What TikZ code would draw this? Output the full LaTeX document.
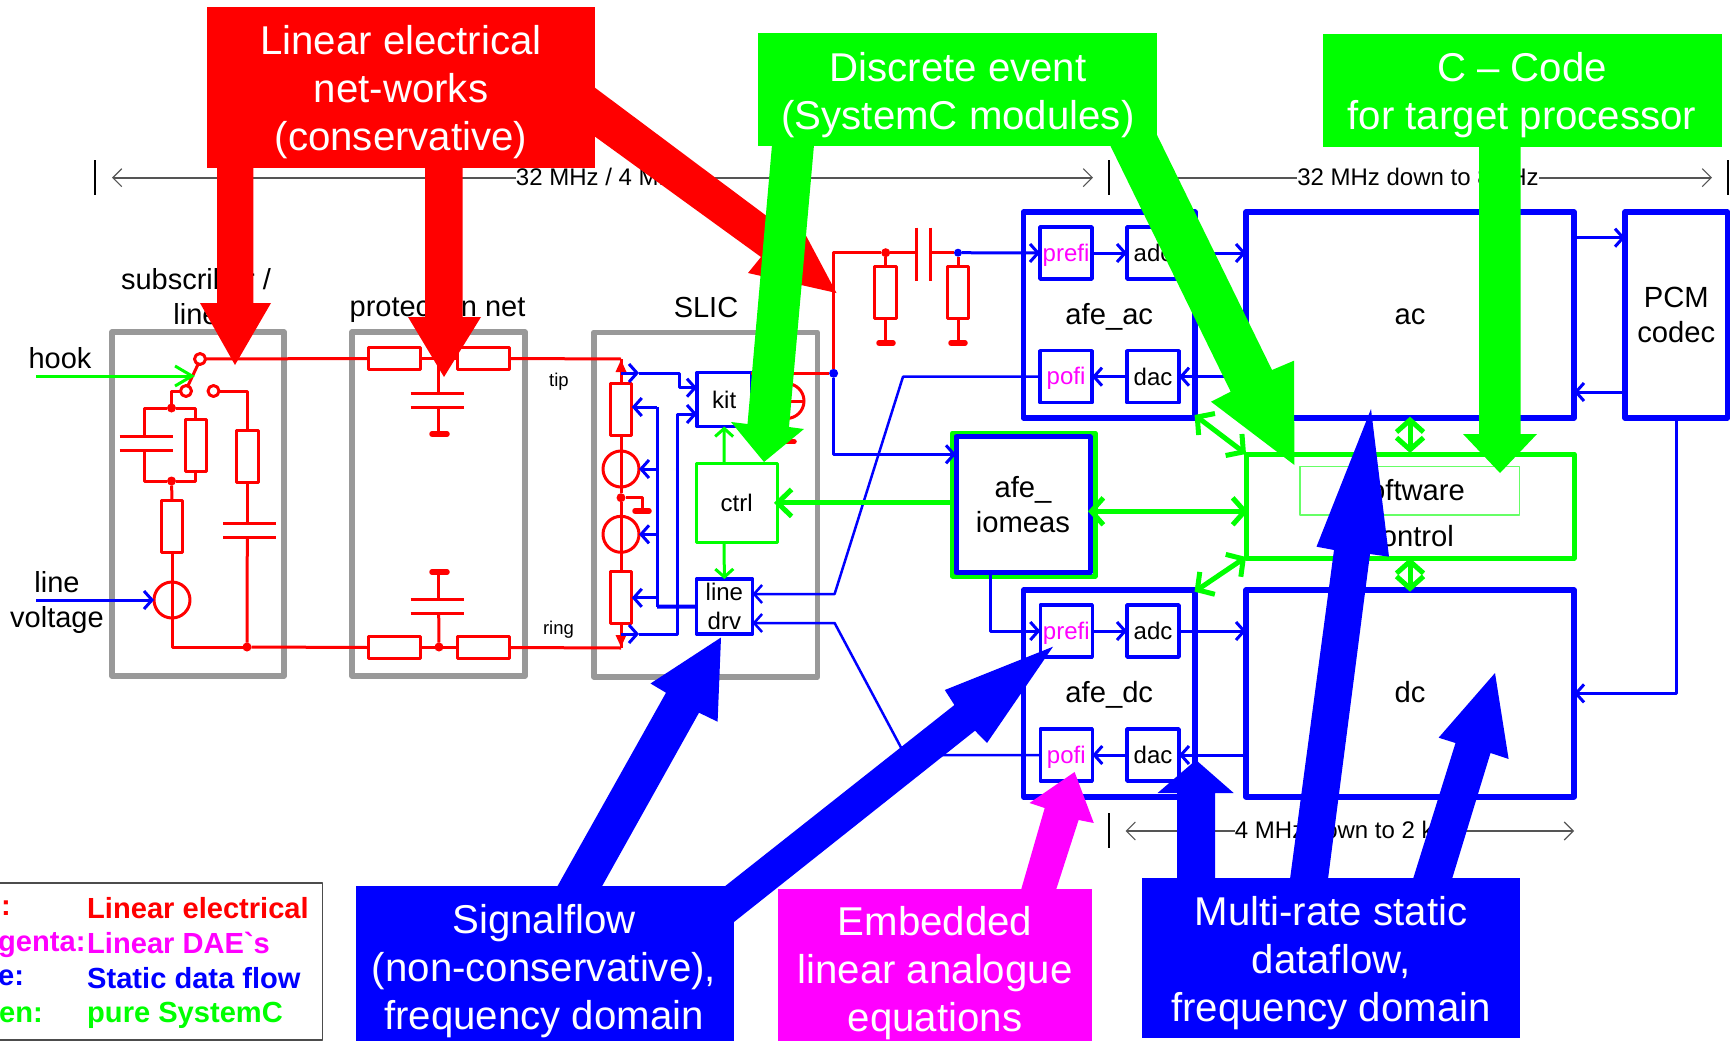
\documentclass[tikz,border=0pt]{standalone}
\usepackage{fontspec}
\setmainfont{Liberation Sans}
\newfontfamily\plainf{Liberation Sans}
\usetikzlibrary{arrows.meta}
\definecolor{fr}{HTML}{FF0000}
\definecolor{fg}{HTML}{00FF00}
\definecolor{fb}{HTML}{0000FF}
\definecolor{fm}{HTML}{FF00FF}
\definecolor{gbox}{HTML}{999999}
\definecolor{dimc}{HTML}{555555}
\tikzset{
  big/.style={font=\fontsize{40.2}{48}\selectfont,text=white,align=center,inner sep=0pt},
  cal/.style={rectangle,inner sep=0pt,outer sep=0pt,draw=none},
  grayb/.style={rectangle,draw=gbox,line width=5.5pt,inner sep=0pt,outer sep=0pt},
  blkb/.style={rectangle,draw=fb,line width=5.5pt,fill=white,inner sep=0pt,outer sep=0pt,font=\fontsize{29.2}{35}\selectfont,align=center},
  blkt/.style={blkb,text height=23pt,text depth=5pt},
  blks/.style={rectangle,draw=fb,line width=3.5pt,fill=white,inner sep=0pt,outer sep=0pt,font=\fontsize{24}{30}\selectfont,align=center,minimum width=52pt,minimum height=52pt},
  grn/.style={rectangle,draw=fg,line width=5pt,inner sep=0pt,outer sep=0pt},
  lab/.style={inner sep=0pt,font=\fontsize{29}{35}\selectfont,align=center},
  sml/.style={inner sep=0pt,font=\fontsize{24}{30}\selectfont,align=center},
  tiny/.style={inner sep=0pt,font=\fontsize{18.5}{22}\selectfont},
  leg/.style={inner sep=0pt,anchor=west,font=\bfseries\fontsize{29.1}{35}\selectfont},
  mag/.style={text=fm,font=\fontsize{24}{30}\selectfont,text height=20pt,text depth=4pt},
  res/.style={rectangle,draw=fr,line width=3pt,fill=white,inner sep=0pt,outer sep=0pt},
  rh/.style={res,minimum width=52pt,minimum height=21.5pt},
  rv/.style={res,minimum width=21.5pt,minimum height=52pt},
  ring/.style={circle,draw=fr,line width=3pt,inner sep=0pt,outer sep=0pt,minimum size=36pt},
  swc/.style={circle,draw=fr,line width=3pt,fill=white,inner sep=0pt,outer sep=0pt,minimum size=11pt},
  jr/.style={circle,fill=fr,inner sep=0pt,outer sep=0pt,minimum size=9pt},
  jb/.style={circle,fill=fb,inner sep=0pt,outer sep=0pt,minimum size=9pt},
  rw/.style={draw=fr,line width=3pt},
  bar/.style={draw=fr,line width=5.5pt,line cap=round},
  bw/.style={draw=fb,line width=3pt},
  bn/.style={draw=fb,line width=2.5pt},
  gw/.style={draw=fg,line width=3pt},
  gt/.style={draw=fg,line width=5pt},
  oa/.style={-{Straight Barb[length=8pt,width=18pt]}},
  oh/.style={-{Straight Barb[length=17pt,width=20pt]}},
  gsa/.style={-{Straight Barb[length=14pt,width=27pt]},shorten >=-3pt},
  gda/.style={{Straight Barb[length=12pt,width=27pt]}-{Straight Barb[length=12pt,width=27pt]}},
  dima/.style={draw=dimc,line width=1.6pt},
  dimt/.style={draw=black,line width=1.6pt},
  dimh/.style={{Straight Barb[length=9pt,width=18pt,line width=1.1pt]}-{Straight Barb[length=9pt,width=18pt,line width=1.1pt]}},
}
\begin{document}
\begin{tikzpicture}[x=1pt,y=-1pt,line join=round]
\useasboundingbox (0,0) rectangle (1735,1041);
\fill[white] (0,0) rectangle (1735,1041);

% frequency ranges
\coordinate (t1a) at (94.7,160); \coordinate (t1b) at (94.7,195);
\coordinate (t2a) at (1109,160); \coordinate (t2b) at (1109,195);
\coordinate (t3a) at (1728,160); \coordinate (t3b) at (1728,195);
\coordinate (t4a) at (1109,813); \coordinate (t4b) at (1109,848);
\draw[dimt] (t1a)--(t1b); \draw[dimt] (t2a)--(t2b); \draw[dimt] (t3a)--(t3b); \draw[dimt] (t4a)--(t4b);
\coordinate (r1a) at (112,177.7); \coordinate (r1b) at (1093,177.7);
\coordinate (r2a) at (1132,177.7); \coordinate (r2b) at (1712,177.7);
\coordinate (r3a) at (1125.5,831); \coordinate (r3b) at (1574,831);
\draw[dima,dimh] (r1a)--(r1b);
\draw[dima,dimh] (r2a)--(r2b);
\draw[dima,dimh] (r3a)--(r3b);
\node[sml,fill=white] (f1) at (602,176.7) {32 MHz / 4 MHz};
\node[sml,fill=white] (f2) at (1418,176.7) {32 MHz down to 8 kHz};
\node[sml,fill=white] (f3) at (1349,830) {4 MHz down to 2 kHz};

% labels
\node[lab] (lsub) at (196,297) {subscriber /\\line};
\node[lab] (lpro) at (437.5,309) {protection net};
\node[lab] (lsl) at (706,307.5) {SLIC};
\node[lab] (lhook) at (60,358) {hook};
\node[lab] (llv) at (57,602) {line\\voltage};
\node[tiny] (ltip) at (559,382) {tip};
\node[tiny] (lring) at (558.5,630) {ring};

% grey boxes
\node[grayb,minimum width=172pt,minimum height=344pt] (bsub) at (198,504) {};
\node[grayb,minimum width=173pt,minimum height=344pt] (bpro) at (438.5,504) {};
\node[grayb,minimum width=223.5pt,minimum height=344.5pt] (bsl) at (705.5,504.5) {};

% subscriber circuit
\node[swc] (swa) at (200,359) {};
\node[swc] (swb) at (186,391) {};
\node[swc] (swd) at (213.5,391) {};
\node[jr] (j1) at (171.5,408) {};
\node[jr] (j2) at (171.5,481) {};
\node[jr] (j3) at (247,647) {};
\node[rv] (rs1) at (195.8,445) {};
\node[rv] (rs2) at (172,526) {};
\node[rv] (rs3) at (247.3,456.5) {};
\node[ring] (src) at (172,600) {};
\draw[rw] (swb.70)--(swa.250);
\draw[rw] (swb.west)-|(j1);
\coordinate (c1t) at (144.6,436); \coordinate (c1b) at (144.6,450);
\draw[rw] (j1)-|(c1t); \draw[rw] (c1b)|-(j2);
\draw[rw] (j1)-|(rs1.north); \draw[rw] (j2)-|(rs1.south);
\draw[rw] (119.5,436)--(173,436); \draw[rw] (119.5,450)--(173,450);
\draw[rw] (j2)--(rs2.north); \draw[rw] (rs2.south)--(src.north)--(src.south)|-(j3);
\draw[rw] (swd.east)-|(rs3.north);
\coordinate (c2t) at (247.3,523.7); \coordinate (c2b) at (247.3,537);
\draw[rw] (rs3.south)--(c2t); \draw[rw] (c2b)--(j3);
\draw[rw] (223,523.7)--(275.5,523.7); \draw[rw] (223,537)--(275.5,537);
\coordinate (hk0) at (36,376); \coordinate (hk1) at (195,376);
\draw[gw,oh] (hk0)--(hk1);
\coordinate (lv0) at (36,600);
\draw[bw,oa] (lv0)--(src.west);

% protection net
\node[rh] (pa1) at (394,358.5) {};
\node[rh] (pa2) at (483.5,358.5) {};
\node[rh] (pb1) at (394,647.5) {};
\node[rh] (pb2) at (483.5,647.5) {};
\node[jr] (j4) at (439,647) {};
\coordinate (jt) at (438.7,359);
\coordinate (tipc) at (621,359); \coordinate (ringc) at (621,648);
\draw[rw] (swa.east)--(pa1.west); \draw[rw] (pa1.east)--(pa2.west); \draw[rw] (pa2.east)--(tipc);
\draw[rw] (j3)--(pb1.west); \draw[rw] (pb1.east)--(pb2.west); \draw[rw] (pb2.east)--(ringc);
\coordinate (c3t) at (438.7,393); \coordinate (c3b) at (438.7,407); \coordinate (g3) at (438.7,434);
\draw[rw] (jt)--(c3t); \draw[rw] (c3b)--(g3);
\draw[rw] (410.5,393)--(464,393); \draw[rw] (410.5,407)--(464,407);
\draw[bar] (432,434)--(447,434);
\coordinate (c4t) at (438.7,599); \coordinate (c4b) at (438.7,613); \coordinate (g4) at (438.7,572);
\draw[rw] (j4)--(c4b); \draw[rw] (c4t)--(g4);
\draw[rw] (410.5,599)--(464,599); \draw[rw] (410.5,613)--(464,613);
\draw[bar] (432,572)--(447,572);

% SLIC
\node[rv] (rt) at (621,409) {};
\node[ring] (sc1) at (621,469) {};
\node[jr] (jg) at (621,497.7) {};
\node[ring] (sc2) at (621,534.3) {};
\node[rv] (rbt) at (621,597.8) {};
\coordinate (ggd) at (642,511);
\draw[rw] (tipc)--(rt.north); \draw[rw] (rt.south)--(sc1.north)--(sc1.south)--(jg)--(sc2.north)--(sc2.south)--(rbt.north); \draw[rw] (rbt.south)--(ringc);
\draw[rw] (jg)-|(ggd);
\draw[bar] (635,511)--(649,511);
\fill[fr] (621,360)--(615.5,372)--(626.5,372)--cycle;
\fill[fr] (621,647)--(615.5,635)--(626.5,635)--cycle;

% sense source behind kit
\node[ring,minimum size=35pt] (sens) at (786.5,401) {};
\coordinate (sg) at (786.5,441.7);
\draw[rw] (sens.south)--(sg);
\draw[bar] (778,441.7)--(794,441.7);

\node[blks,minimum width=54.4pt,minimum height=54pt] (kit) at (724.2,399.5) {kit};
\node[rectangle,draw=fg,line width=3pt,fill=white,inner sep=0pt,outer sep=0pt,minimum width=80.6pt,minimum height=79.7pt,font=\fontsize{24}{30}\selectfont] (ctrl) at (736.7,502.9) {ctrl};
\node[blks,minimum width=56pt,minimum height=55pt,align=center] (drv) at (724.4,606.5) {\raisebox{1pt}{line}\\[-1pt]\raisebox{1pt}{drv}};
\draw[rw] (sens.west)--(sens.east);

\coordinate (st1) at (621,373); \coordinate (ar1) at (639,373); \coordinate (k2) at (679,387.7);
\coordinate (st2) at (621,634); \coordinate (ar2) at (639,634); \coordinate (k3) at (677,414);
\draw[bw,oa] (st1)--(ar1);
\draw[bw,oa] (ar1)-|(k2)--(kit.west|-k2);
\draw[bw,oa] (st2)--(ar2);
\draw[bw,oa] (ar2)-|(k3)--(kit.west|-k3);
\coordinate (bt) at (657,407); \coordinate (bb) at (657,606.7);
\draw[bw,line width=4pt] (drv.west)--(bb);
\draw[bw] (bb)--(bt);
\draw[bw,oa] (bt)--(rt.east|-bt);
\draw[bw,oa] (bt|-sc1)--(sc1.east);
\draw[bw,oa] (bt|-sc2)--(sc2.east);
\draw[bw,oa] (bt|-rbt)--(rbt.east);
\coordinate (ka) at (724,463); \coordinate (kb) at (724,542.7);
\draw[gw,oa] (ka)--(kit.south);
\draw[gw,oa] (kb)--(drv.north);

% blocks
\node[blkt,minimum width=171.5pt,minimum height=206pt] (afeac) at (1109.25,315) {afe\_ac};
\node[blkt,minimum width=171.5pt,minimum height=206.7pt] (afedc) at (1109.25,693.4) {afe\_dc};
\node[blkt,minimum width=328pt,minimum height=206pt] (ac) at (1410,315) {ac};
\node[blkt,minimum width=328pt,minimum height=206.7pt] (dc) at (1410,693.4) {dc};
\node[blkb,minimum width=102.6pt,minimum height=206pt] (pcm) at (1676.3,315) {PCM\\codec};
\node[rectangle,draw=fg,line width=5pt,line join=round,fill=white,inner sep=0pt,outer sep=0pt,minimum width=142.5pt,minimum height=143pt] (iomg) at (1023.75,504.5) {};
\node[blkb,line width=5pt,minimum width=134pt,minimum height=136pt] (iom) at (1023,504.7) {\raisebox{1pt}{afe\_}\\\raisebox{1pt}{iomeas}};
\node[grn,minimum width=328pt,minimum height=104pt,fill=white] (sw) at (1410,506) {};
\node[rectangle,draw=fg!60!white,line width=1.3pt,inner sep=0pt,minimum width=219.5pt,minimum height=48.3pt,font=\fontsize{29.2}{35}\selectfont] (swt) at (1409.75,490.8) {\raisebox{2pt}{software}};
\node[lab,font=\fontsize{29.2}{35}\selectfont] (ctl) at (1410,536) {control};

\node[blks,mag] (prea) at (1066,253) {prefi};
\node[blks] (adca) at (1153,253) {adc};
\node[blks,mag] (pofa) at (1066,376.7) {pofi};
\node[blks] (daca) at (1153,376.7) {dac};
\node[blks,mag] (pred) at (1066.3,631) {prefi};
\node[blks] (adcd) at (1153,631) {adc};
\node[blks,mag] (pofd) at (1066.3,755) {pofi};
\node[blks] (dacd) at (1153,755) {dac};

% AC coupling
\node[jb] (jb1) at (833.6,373.3) {};
\node[jr] (jrc) at (885.7,252.7) {};
\node[jb,minimum size=8pt] (jb2) at (958,252.7) {};
\node[rv] (rl) at (885.7,292) {};
\node[rv] (rr) at (958,292) {};
\coordinate (ca) at (916.8,252.7); \coordinate (cb) at (930,252.7);
\coordinate (gl) at (885.7,343); \coordinate (gr) at (958,343);
\draw[rw] (kit.east|-jb1)--(jb1)|-(jrc);
\draw[rw] (jrc)--(ca); \draw[rw] (cb)--(jb2);
\draw[rw] (916.8,227.7)--(916.8,281); \draw[rw] (930,227.7)--(930,281);
\draw[rw] (jrc)--(rl.north); \draw[rw] (jb2)--(rr.north);
\draw[rw] (rl.south)--(gl); \draw[rw] (rr.south)--(gr);
\draw[bar] (879,343)--(893,343); \draw[bar] (951,343)--(965,343);

% blue wires
\coordinate (w1) at (833.6,454.3);
\draw[bw,oa] (jb1)--(w1)--(iom.west|-w1);
\draw[bw,oa] (jb2)--(prea.west);
\draw[bw,oa] (prea.east)--(adca.west);
\draw[bw,oa] (adca.east)--(ac.west|-adca);
\draw[bw,oa] (ac.west|-daca)--(daca.east);
\draw[bw,oa] (daca.west)--(pofa.east);
\coordinate (d1) at (834.6,594); \coordinate (d2) at (834.6,623);
\coordinate (e1) at (903,376.7); \coordinate (e2) at (905,755);
\draw[bn,oa] (pofa.west)--(e1)--(d1)--(drv.east|-d1);
\draw[bn,oa] (pofd.west)--(e2)--(d2)--(drv.east|-d2);
\coordinate (i1) at (990,572.7);
\draw[bw,oa] (i1)|-(pred.west);
\draw[bw,oa] (pred.east)--(adcd.west);
\draw[bw,oa] (adcd.east)--(dc.west|-adcd);
\draw[bw,oa] (dc.west|-dacd)--(dacd.east);
\draw[bw,oa] (dacd.west)--(pofd.east);
\coordinate (p1) at (1574,237.7); \coordinate (p2) at (1574,392);
\draw[bw,oa] (p1)--(pcm.west|-p1);
\draw[bw,oa] (pcm.west|-p2)--(p2);
\draw[bw,oa] (pcm.south)|-(dc.east);

% green wires
\draw[gt,gsa] (iomg.west|-ctrl)--(ctrl.east);
\coordinate (g1) at (1088,511.3); \coordinate (g2) at (1248,511.3);
\draw[gt,gda] (g1)--(g2);
\coordinate (g3a) at (1410,416.7); \coordinate (g3b) at (1410,453);
\draw[gt,gda] (g3a)--(g3b);
\coordinate (g4a) at (1410,558); \coordinate (g4b) at (1410,591.7);
\draw[gt,gda] (g4a)--(g4b);
\coordinate (g5a) at (1194.6,415); \coordinate (g5b) at (1246,454);
\draw[gt,gda] (g5a)--(g5b);
\coordinate (g6a) at (1194.6,591.7); \coordinate (g6b) at (1246,557);
\draw[gt,gda] (g6a)--(g6b);

% block arrows
\fill[fr] (217,168)--(217,303)--(200,303)--(235,365)--(271,303)--(253.4,303)--(253.4,168)--cycle;
\fill[fr] (425,168)--(425,317)--(408,317)--(444,377)--(481,317)--(462.5,317)--(462.5,168)--cycle;
\fill[fr] (590,84)--(782.7,228)--(794,213)--(836.5,293)--(748,273)--(761,257)--(590,133)--cycle;
\fill[fg] (772,145)--(747.5,424)--(731,422)--(764,462)--(804,429)--(789,427)--(814,145)--cycle;
\fill[fg] (1110,145)--(1230.7,391.7)--(1211,401.7)--(1294.4,465)--(1294,360.7)--(1272,370)--(1157,135)--cycle;
\fill[fg] (1479,146)--(1479,434)--(1463,434)--(1500,473)--(1537,434)--(1520.5,434)--(1520.5,146)--cycle;
\fill[fb] (557,887)--(666,692.7)--(650.5,683.5)--(721,637.5)--(717.6,721.7)--(699,712.7)--(601.6,887)--cycle;
\fill[fb] (724,887)--(954.4,705)--(944.8,690)--(1053,646.7)--(987,743)--(975,730.7)--(734,922)--cycle;
\fill[fm] (1021,890)--(1044.7,808)--(1029.5,803)--(1074.6,772)--(1093.8,823)--(1078.6,820)--(1056,890)--cycle;
\fill[fb] (1177,879)--(1177,793)--(1157.6,793)--(1196,760)--(1233.7,793)--(1215,793)--(1215,879)--cycle;
\fill[fb] (1290,879)--(1334,550)--(1316.5,546.7)--(1371,409)--(1389,556.7)--(1370,554)--(1328,879)--cycle;
\fill[fb] (1413,879)--(1455.5,743)--(1438.6,737.7)--(1495,673)--(1508.6,759)--(1490.5,753)--(1452,879)--cycle;

% callouts
\node[cal,fill=fr,minimum width=388pt,minimum height=161pt] (cr) at (401,87.5) {};
\node[big] (crt) at (401,92.5) {Linear electrical\\net-works\\(conservative)};
\node[cal,fill=fg,minimum width=399pt,minimum height=113pt] (cg1) at (957.5,89.5) {};
\node[big] (cg1t) at (958,95) {Discrete event\\(SystemC modules)};
\node[cal,fill=fg,minimum width=399pt,minimum height=113pt] (cg2) at (1522.5,90.5) {};
\node[big] (cg2t) at (1522,95.2) {C – Code\\for target processor};
\node[cal,fill=fb,minimum width=378pt,minimum height=155pt] (cb1) at (545,963.5) {};
\node[big] (cb1t) at (544,971.3) {Signalflow\\(non-conservative),\\frequency domain};
\node[cal,fill=fm,minimum width=314pt,minimum height=152pt] (cm) at (935,965) {};
\node[big] (cmt) at (935,973.3) {Embedded\\linear analogue\\equations};
\node[cal,fill=fb,minimum width=378pt,minimum height=160pt] (cb2) at (1331,958) {};
\node[big] (cb2t) at (1331,963) {Multi-rate static\\dataflow,\\frequency domain};

% legend
\coordinate (la) at (0,883); \coordinate (lb) at (322.6,883); \coordinate (lc) at (322.6,1040); \coordinate (ld) at (0,1040);
\draw[line width=1.5pt,draw=black!70] (la)--(lb)--(lc)--(ld);
\node[leg,text=fr] (l1a) at (1,908.5) {:};
\node[leg,text=fr] (l1b) at (87,908.5) {Linear electrical};
\node[leg,text=fm] (l2a) at (-2,945) {genta:};
\node[leg,text=fm] (l2b) at (87,943) {Linear DAE{\plainf\bfseries`}s};
\node[leg,text=fb] (l3a) at (-2,978) {e:};
\node[leg,text=fb] (l3b) at (87,978) {Static data flow};
\node[leg,text=fg] (l4a) at (-1,1015) {en:};
\node[leg,text=fg] (l4b) at (87,1015) {pure SystemC};
\end{tikzpicture}
\end{document}
